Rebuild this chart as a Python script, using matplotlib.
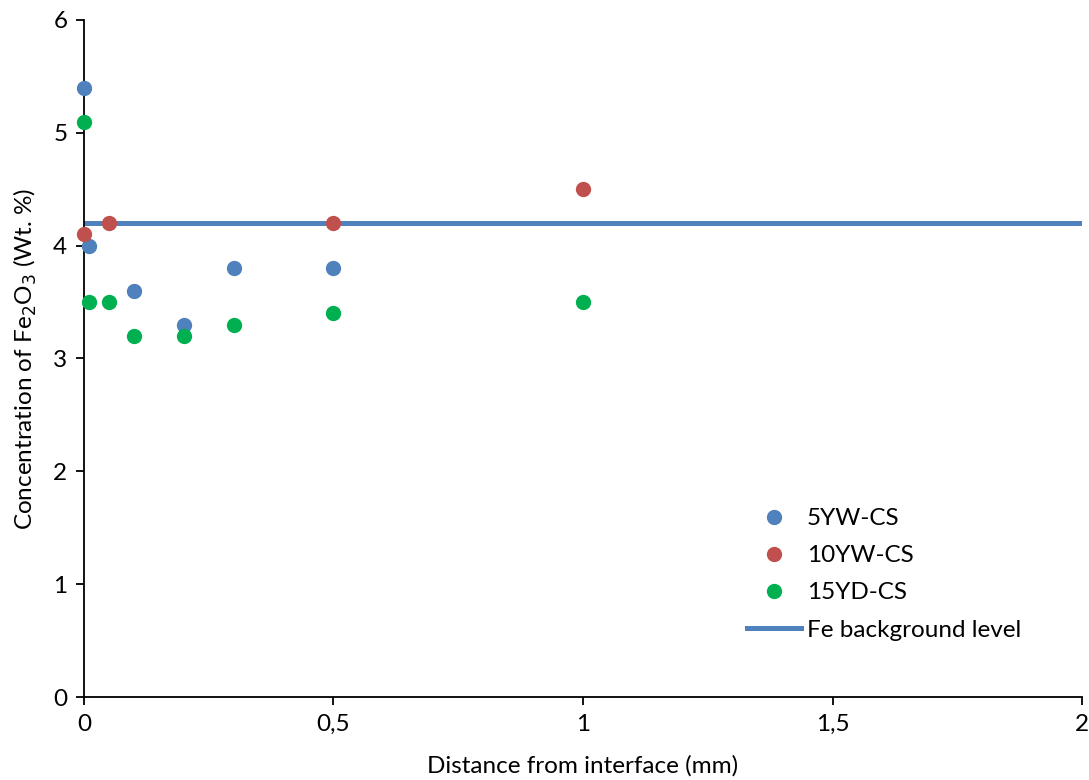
import matplotlib.pyplot as plt
from matplotlib.ticker import FuncFormatter

plt.rcParams['font.family'] = ['Lato', 'DejaVu Sans']

# data
x_5yw = [0, 0.01, 0.1, 0.2, 0.3, 0.5]
y_5yw = [5.4, 4.0, 3.6, 3.3, 3.8, 3.8]
x_10yw = [0, 0.05, 0.5, 1.0]
y_10yw = [4.1, 4.2, 4.2, 4.5]
x_15yd = [0, 0.01, 0.05, 0.1, 0.2, 0.3, 0.5, 1.0]
y_15yd = [5.1, 3.5, 3.5, 3.2, 3.2, 3.3, 3.4, 3.5]
bg_x = [0, 2]
bg_y = [4.2, 4.2]

fs = 17.5

fig = plt.figure(figsize=(10.89, 7.8), dpi=100)
ax = fig.add_axes([0.0771, 0.1064, 0.9165, 0.868])

ax.plot(x_5yw, y_5yw, 'o', color='#4F81BD', ms=10, label='5YW-CS', zorder=3, clip_on=False)
ax.plot(x_10yw, y_10yw, 'o', color='#C0504D', ms=10, label='10YW-CS', zorder=3, clip_on=False)
ax.plot(x_15yd, y_15yd, 'o', color='#00B050', ms=10, label='15YD-CS', zorder=3, clip_on=False)
ax.plot(bg_x, bg_y, '-', color='#4F81BD', lw=3.6, label='Fe background level', zorder=2)

ax.set_xlim(0, 2)
ax.set_ylim(0, 6)
ax.set_xticks([0, 0.5, 1, 1.5, 2])
ax.set_yticks(range(7))
ax.xaxis.set_major_formatter(FuncFormatter(lambda v, p: ('%g' % v).replace('.', ',')))
ax.tick_params(direction='out', length=6, width=1.3, labelsize=fs, colors='black')
ax.tick_params(axis='x', pad=6)
ax.tick_params(axis='y', pad=6)
for s in ['top', 'right']:
    ax.spines[s].set_visible(False)
for s in ['left', 'bottom']:
    ax.spines[s].set_linewidth(1.3)

ax.set_xlabel('Distance from interface (mm)', fontsize=fs, labelpad=15)
ax.set_ylabel('Concentration of Fe$_2$O$_3$ (Wt. %)', fontsize=fs, labelpad=10)

ax.legend(loc='upper left', bbox_to_anchor=(0.655, 0.293), borderaxespad=0, frameon=False,
          fontsize=fs, handlelength=2.2, labelspacing=0.66, handletextpad=0.25)

fig.savefig('out.png', dpi=100)
